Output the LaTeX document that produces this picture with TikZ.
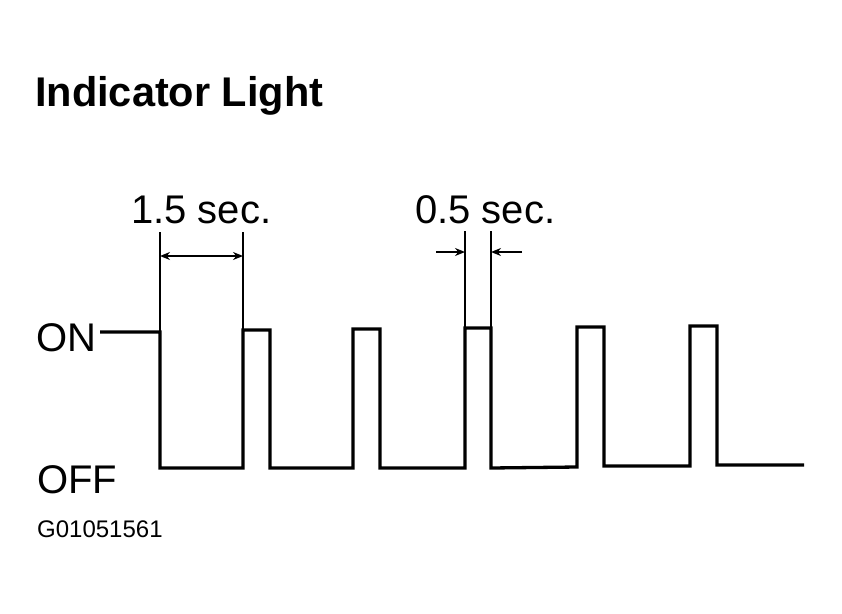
\documentclass[tikz,border=0pt]{standalone}
\usepackage{fontspec}
\setmainfont{Liberation Sans}
\usetikzlibrary{arrows.meta}
\tikzset{
  wave/.style={line width=3.3pt, line join=miter, line cap=butt},
  ext/.style={line width=2.8pt},
  dim/.style={line width=2.4pt, -{Stealth[length=10pt,width=8pt]}},
  dimboth/.style={line width=2.4pt, {Stealth[length=10pt,width=8pt]}-{Stealth[length=10pt,width=8pt]}},
  lbl/.style={anchor=base west, inner sep=0pt, font=\fontsize{40}{41}\selectfont},
  ttl/.style={anchor=base west, inner sep=0pt, font=\fontsize{41.5}{42}\selectfont\bfseries},
  code/.style={anchor=base west, inner sep=0pt, font=\fontsize{24}{25}\selectfont}
}
\begin{document}
\begin{tikzpicture}[x=1pt,y=-1pt]
\useasboundingbox (0,0) rectangle (842,613);
\node[ttl] (title) at (35,106) {Indicator Light};
\node[lbl] (on) at (36,351) {ON};
\node[lbl] (off) at (37,493) {OFF};
\node[code] (code) at (37,537) {G01051561};
\node[lbl] (t15) at (131,223) {1.5 sec.};
\node[lbl] (t05) at (415,223) {0.5 sec.};
% waveform
\draw[wave] (100,332) -- (160,332) -- (160,468) -- (243,468) -- (243,330) -- (270,330) -- (270,468)
  -- (353,468) -- (353,329) -- (380,329) -- (380,468)
  -- (465,468) -- (465,328) -- (491,328) -- (491,468)
  -- (577,467) -- (577,327) -- (604,327) -- (604,466)
  -- (690,466) -- (690,326) -- (717,326) -- (717,465) -- (804,465);
% extension lines
\draw[ext] (160,232) -- (160,334);
\draw[ext] (243,232) -- (243,332);
\draw[ext] (465,231) -- (465,330);
\draw[ext] (491,231) -- (491,330);
% dimension arrows
\coordinate (a1) at (160,256);
\coordinate (a2) at (243,256);
\draw[dimboth] (a1) -- (a2);
\coordinate (b0) at (436,252);
\coordinate (b1) at (465,252);
\coordinate (c0) at (522,252);
\coordinate (c1) at (491,252);
\draw[dim] (b0) -- (b1);
\draw[dim] (c0) -- (c1);
\end{tikzpicture}
\end{document}
